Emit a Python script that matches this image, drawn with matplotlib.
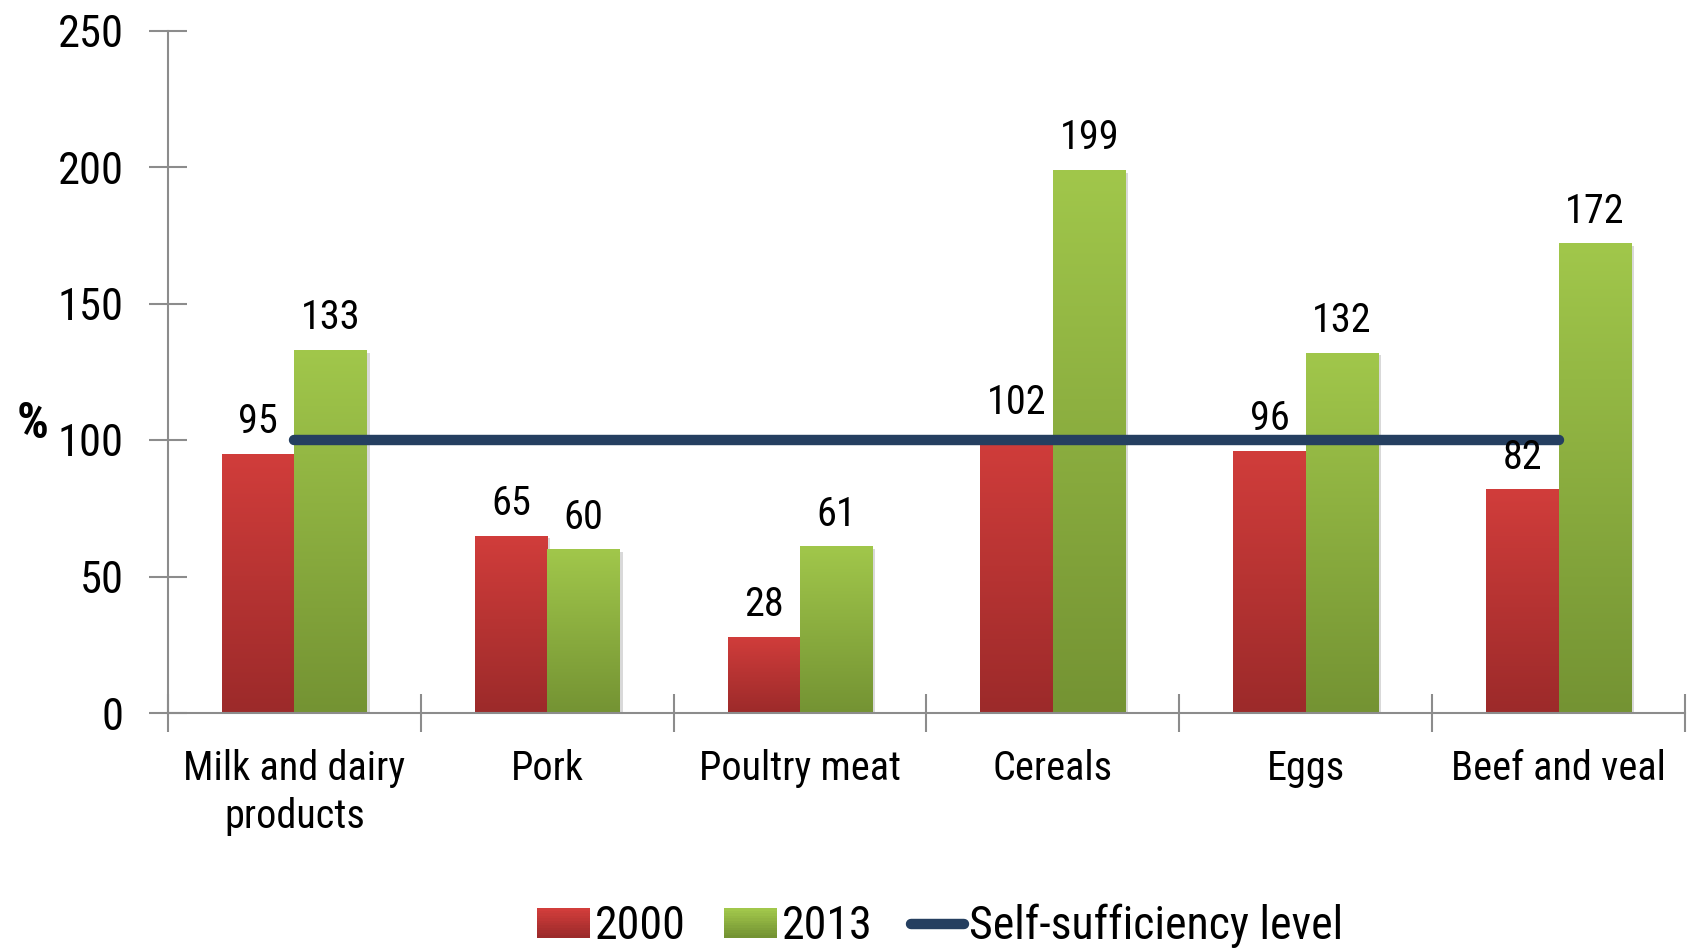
import numpy as np
import matplotlib
matplotlib.use("Agg")
import matplotlib.pyplot as plt
from matplotlib import font_manager
from matplotlib.legend_handler import HandlerBase
from matplotlib.patches import Rectangle
from matplotlib.lines import Line2D
from matplotlib.colors import LinearSegmentedColormap, to_rgb
import matplotlib.patheffects as pe

categories = ["Milk and dairy\nproducts", "Pork", "Poultry meat", "Cereals", "Eggs", "Beef and veal"]
values_2000 = [95, 65, 28, 102, 96, 82]
values_2013 = [133, 60, 61, 199, 132, 172]
self_sufficiency = [100, 100, 100, 100, 100, 100]
yticks = [0, 50, 100, 150, 200, 250]

names = {f.name for f in font_manager.fontManager.ttflist}
for cand in ["Liberation Sans Narrow", "Roboto Condensed", "PT Sans Narrow", "Archivo Narrow"]:
    if cand in names:
        FAM = [cand, "DejaVu Sans"]
        break
else:
    FAM = ["DejaVu Sans"]
plt.rcParams["font.family"] = FAM

RED_TOP, RED_BOT = "#D13D3B", "#9C2A2A"
GRN_TOP, GRN_BOT = "#A1C74B", "#749333"
LINE_C = "#253F60"
AX_C = "#8C8C8C"

fig = plt.figure(figsize=(16.9, 9.49), dpi=100)
ax = fig.add_axes([168/1690, 1-713/949, (1685-168)/1690, (713-30.5)/949])

x = np.arange(len(categories))
w = 0.287

shadow = [pe.SimplePatchShadow(offset=(2, -2), shadow_rgbFace="#000000", alpha=0.15), pe.Normal()]

def gradient_bars(bars, top, bot):
    cmap = LinearSegmentedColormap.from_list("g", [bot, top])
    grad = np.linspace(0, 1, 256).reshape(-1, 1)
    for b in bars:
        b.set_facecolor(bot)
        b.set_path_effects(shadow)
        x0, y0 = b.get_x(), b.get_y()
        im = ax.imshow(grad, cmap=cmap, origin="lower", aspect="auto",
                       extent=[x0, x0 + b.get_width(), y0, y0 + b.get_height()],
                       zorder=b.get_zorder() + 0.1, interpolation="bicubic")
        im.set_clip_path(b)

b1 = ax.bar(x - w/2, values_2000, w, color=RED_TOP, zorder=2, linewidth=0)
b2 = ax.bar(x + w/2, values_2013, w, color=GRN_TOP, zorder=2, linewidth=0)
gradient_bars(b1, RED_TOP, RED_BOT)
gradient_bars(b2, GRN_TOP, GRN_BOT)

ax.plot(x, self_sufficiency, color=LINE_C, lw=7.5, solid_capstyle="round", zorder=4)

for bars in (b1, b2):
    labs = ax.bar_label(bars, padding=9, fontsize=29, color="black")
    for t in labs:
        t.set_zorder(6)

ax.set_xlim(-0.5, len(categories) - 0.5)
ax.set_ylim(0, 250)
ax.set_yticks(yticks)
ax.set_yticklabels([str(v) for v in yticks], fontsize=32)
ax.set_xticks(x)
ax.set_xticklabels(categories, fontsize=29, linespacing=1.3)
ax.set_xticks(np.arange(-0.5, len(categories)), minor=True)
ax.tick_params(axis="x", which="major", length=0, pad=26)
ax.tick_params(axis="x", which="minor", direction="inout", length=28, width=1.5, color=AX_C)
ax.tick_params(axis="y", direction="inout", length=28, width=1.5, color=AX_C, pad=18)

for s in ("top", "right"):
    ax.spines[s].set_visible(False)
for s in ("left", "bottom"):
    ax.spines[s].set_color(AX_C)
    ax.spines[s].set_linewidth(1.5)
ax.patch.set_visible(False)

fig.text(33/1690, 1-424/949, "%", fontsize=36, fontweight="bold", ha="center", va="center")

class GradHandler(HandlerBase):
    def __init__(self, top, bot):
        super().__init__()
        self.top, self.bot = top, bot
    def create_artists(self, legend, orig, xd, yd, width, height, fontsize, trans):
        t = np.array(to_rgb(self.top)); b = np.array(to_rgb(self.bot))
        n = 12
        arts = []
        H = height
        y0 = -yd
        for i in range(n):
            f = i / (n - 1)
            c = b * (1 - f) + t * f
            r = Rectangle((-xd, y0 + H * i / n), width, H / n + 0.3, facecolor=c,
                          edgecolor="none", transform=trans)
            arts.append(r)
        return arts

h1 = Rectangle((0, 0), 1, 1)
h2 = Rectangle((0, 0), 1, 1)
h3 = Line2D([0], [1], color=LINE_C, lw=7.5, solid_capstyle="round")
leg = fig.legend([h1, h2, h3], ["2000", "2013", "Self-sufficiency level"],
                 handler_map={h1: GradHandler(RED_TOP, RED_BOT), h2: GradHandler(GRN_TOP, GRN_BOT)},
                 loc="center", bbox_to_anchor=(940/1690, 1-926/949), ncol=3, frameon=False,
                 fontsize=33, handlelength=1.15, handletextpad=0.1, columnspacing=0.85,
                 handleheight=0.6)

fig.savefig("out.png", dpi=100)
